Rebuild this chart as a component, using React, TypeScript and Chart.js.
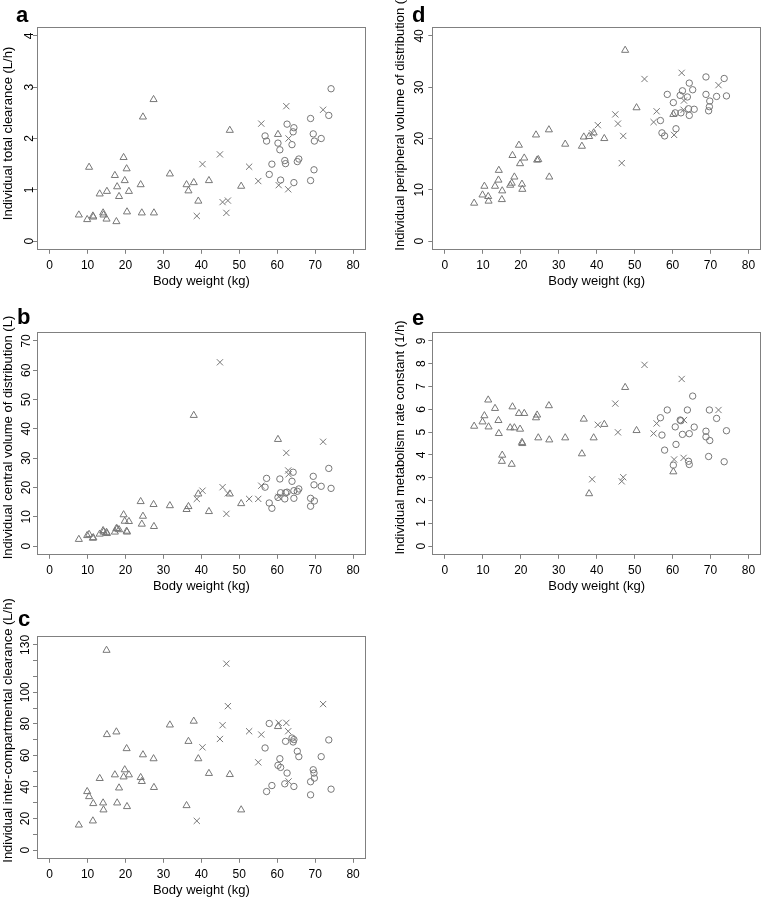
import React, { useEffect, useRef } from 'react';
import { Chart, registerables } from 'chart.js';
Chart.register(...registerables);

// ---------- data (body weight in kg, shared by every panel) ----------
const WEIGHT_TRIANGLE = [7.7, 9.9, 10.4, 11.4, 11.5, 13.2, 14.1, 14.2, 15.0, 15.1, 17.2, 17.6, 17.8, 18.3, 19.5, 19.8, 20.3, 20.4, 20.9, 24.0, 24.3, 24.6, 27.4, 27.5, 31.7, 36.1, 36.6, 38.0, 39.2, 42.0, 47.5, 50.5, 60.2];
const WEIGHT_CROSS = [38.8, 40.3, 44.9, 45.6, 46.6, 47.0, 52.6, 55.0, 55.8, 60.4, 62.4, 62.9, 63.0, 72.1];
const WEIGHT_CIRCLE = [56.8, 57.2, 57.9, 58.6, 60.2, 60.7, 60.9, 62.0, 62.2, 62.6, 63.9, 64.2, 64.4, 64.4, 65.3, 65.7, 68.8, 68.8, 69.5, 69.7, 69.8, 71.6, 73.6, 74.2];

// a: individual total clearance (L/h)
const CL_TRIANGLE = [0.51, 0.42, 1.44, 0.49, 0.47, 0.92, 0.55, 0.51, 0.43, 0.97, 1.28, 0.38, 1.06, 0.87, 1.63, 1.18, 1.41, 0.57, 0.97, 1.10, 0.55, 2.42, 2.76, 0.55, 1.31, 1.10, 0.98, 1.14, 0.78, 1.18, 2.16, 1.07, 2.08];
const CL_CROSS = [0.49, 1.50, 1.69, 0.76, 0.55, 0.79, 1.45, 1.17, 2.29, 1.09, 2.63, 1.01, 2.00, 2.56];
const CL_CIRCLE = [2.05, 1.95, 1.30, 1.50, 1.91, 1.78, 1.19, 1.57, 1.51, 2.28, 1.88, 2.13, 2.21, 1.14, 1.55, 1.60, 1.18, 2.39, 2.09, 1.39, 1.95, 2.00, 2.45, 2.97];

// b: individual central volume of distribution (L)
const VC_TRIANGLE = [2.3, 3.6, 4.0, 2.7, 2.9, 4.1, 5.3, 4.8, 4.7, 4.3, 4.8, 6.0, 5.9, 5.6, 10.7, 8.5, 5.1, 4.8, 8.4, 15.2, 7.5, 10.2, 14.2, 6.7, 13.8, 12.5, 13.5, 44.6, 17.8, 11.8, 17.8, 14.5, 36.4];
const VC_CROSS = [16.1, 18.9, 62.7, 20.1, 11.0, 18.0, 16.1, 16.1, 20.6, 16.8, 31.8, 25.8, 24.5, 35.6];
const VC_CIRCLE = [20.1, 23.1, 14.7, 12.9, 16.6, 22.9, 18.2, 16.1, 18.2, 18.4, 22.1, 25.2, 18.9, 16.3, 18.7, 19.5, 16.3, 13.6, 23.8, 20.9, 15.4, 20.4, 26.5, 19.7];

// c: individual inter-compartmental clearance (L/h)
const Q_TRIANGLE = [15.9, 37.1, 33.9, 18.5, 29.5, 45.4, 29.9, 25.5, 126.6, 73.2, 47.7, 74.9, 29.9, 39.4, 46.4, 50.9, 64.3, 27.6, 47.7, 46.0, 43.5, 60.4, 57.9, 39.7, 79.3, 28.2, 68.9, 81.7, 57.9, 48.6, 47.9, 25.5, 78.3];
const Q_CROSS = [18.5, 65.1, 70.4, 79.1, 118.1, 91.2, 75.3, 55.6, 73.2, 80.6, 80.6, 75.3, 43.5, 92.5];
const Q_CIRCLE = [64.7, 37.1, 80.2, 40.9, 53.7, 57.9, 52.4, 42.0, 68.9, 48.8, 71.0, 68.5, 40.3, 70.0, 62.6, 59.2, 35.0, 43.3, 50.9, 48.8, 45.6, 59.2, 69.8, 38.6];

// d: individual peripheral volume of distribution (L)
const VP_TRIANGLE = [7.4, 9.0, 10.7, 8.7, 7.8, 10.7, 11.9, 13.8, 8.1, 9.8, 10.9, 11.3, 16.7, 12.5, 18.7, 15.1, 11.1, 10.1, 16.2, 20.7, 15.8, 15.9, 21.7, 12.5, 18.9, 18.5, 20.3, 20.4, 21.1, 20.0, 37.2, 26.0, 24.7];
const VP_CROSS = [21.0, 22.6, 24.7, 22.9, 15.2, 20.5, 31.6, 23.2, 25.3, 20.7, 32.8, 25.6, 27.4, 30.4];
const VP_CIRCLE = [23.5, 21.1, 20.5, 28.6, 27.0, 25.0, 21.9, 28.4, 25.0, 29.3, 28.1, 25.8, 24.5, 30.8, 29.5, 25.7, 32.0, 28.6, 25.4, 26.2, 27.3, 28.2, 31.7, 28.3];

// e: individual metabolism rate constant (1/h)
const KM_TRIANGLE = [5.26, 5.45, 5.72, 6.41, 5.23, 6.04, 5.51, 4.94, 3.72, 3.99, 5.19, 3.59, 6.11, 5.19, 5.82, 5.13, 4.55, 4.50, 5.82, 5.63, 5.75, 4.75, 6.16, 4.66, 4.75, 4.05, 5.57, 2.30, 4.75, 5.34, 6.96, 5.07, 3.26];
const KM_CROSS = [2.93, 5.32, 6.25, 4.99, 2.84, 3.02, 7.95, 4.94, 5.38, 3.80, 7.33, 3.87, 5.53, 5.97];
const KM_CIRCLE = [5.63, 4.87, 4.21, 5.97, 3.55, 5.23, 4.46, 5.53, 5.50, 4.90, 5.97, 3.72, 3.58, 4.93, 6.58, 5.22, 5.04, 4.79, 3.93, 5.97, 4.63, 5.60, 3.70, 5.06];

// ---------- ticks ----------
const X_TICKS = [0, 10, 20, 30, 40, 50, 60, 70, 80];
const CL_TICKS = [0, 1, 2, 3, 4];
const VC_TICKS = [0, 10, 20, 30, 40, 50, 60, 70];
const Q_TICKS = [0, 10, 20, 30, 40, 50, 60, 70, 80, 90, 100, 110, 120, 130];
const Q_TICK_LABELS = ['0', '', '20', '', '40', '', '60', '', '80', '', '100', '', '', '130'];
const VP_TICKS = [0, 10, 20, 30, 40];
const KM_TICKS = [0, 1, 2, 3, 4, 5, 6, 7, 8, 9];

const X_TITLE = 'Body weight (kg)';

// ---------- layout / style ----------
const FONT = '"Liberation Sans", Arial, Helvetica, sans-serif';
const GRAY = '#777777';
const BOX_GRAY = '#808080';
const AREA_HEIGHT = 221.6;
const TICK_LEN = 4.5;

type Panel = {
  letter: string;
  left: number; top: number; width: number; height: number;
  areaTop: number; areaLeft: number; areaRight: number;
  yTitle: string; yTitleShift: number; yMin: number; yMax: number;
  ticks: number[]; labels: string[] | null;
  series: number[][];
  letterX: number; letterY: number;
  yLabelDist: number;
};

const PANELS: Panel[] = [
  { letter: 'a', left: 0, top: 0, width: 380, height: 305, areaTop: 27.7, areaLeft: 37.5, areaRight: 365.2,
    yTitle: 'Individual total clearance (L/h)', yTitleShift: -5, yMin: -0.16, yMax: 4.16, ticks: CL_TICKS, labels: null,
    series: [CL_TRIANGLE, CL_CROSS, CL_CIRCLE], letterX: 16, letterY: 22, yLabelDist: 8 },
  { letter: 'b', left: 0, top: 305, width: 380, height: 304, areaTop: 27.7, areaLeft: 37.5, areaRight: 365.2,
    yTitle: 'Individual central volume of distribution (L)', yTitleShift: -6, yMin: -2.8, yMax: 72.8, ticks: VC_TICKS, labels: null,
    series: [VC_TRIANGLE, VC_CROSS, VC_CIRCLE], letterX: 17, letterY: 18.5, yLabelDist: 10.5 },
  { letter: 'c', left: 0, top: 590, width: 380, height: 309, areaTop: 46.7, areaLeft: 37.5, areaRight: 365.2,
    yTitle: 'Individual inter-compartmental clearance (L/h)', yTitleShift: -17, yMin: -5.2, yMax: 135.2, ticks: Q_TICKS, labels: Q_TICK_LABELS,
    series: [Q_TRIANGLE, Q_CROSS, Q_CIRCLE], letterX: 18, letterY: 35.5, yLabelDist: 12 },
  { letter: 'd', left: 392, top: 0, width: 369, height: 305, areaTop: 27.7, areaLeft: 40.8, areaRight: 368.6,
    yTitle: 'Individual peripheral volume of distribution (L)', yTitleShift: -19, yMin: -1.6, yMax: 41.6, ticks: VP_TICKS, labels: null,
    series: [VP_TRIANGLE, VP_CROSS, VP_CIRCLE], letterX: 20, letterY: 22, yLabelDist: 13.5 },
  { letter: 'e', left: 392, top: 305, width: 369, height: 304, areaTop: 27.7, areaLeft: 40.8, areaRight: 368.6,
    yTitle: 'Individual metabolism rate constant (1/h)', yTitleShift: -6, yMin: -0.36, yMax: 9.36, ticks: KM_TICKS, labels: null,
    series: [KM_TRIANGLE, KM_CROSS, KM_CIRCLE], letterX: 20, letterY: 20, yLabelDist: 11 },
];

const boxPlugin = {
  id: 'rBox',
  afterDraw(chart: any) {
    const { ctx, chartArea } = chart;
    const l = Math.floor(chartArea.left) + 0.5;
    const t = Math.floor(chartArea.top) + 0.5;
    const r = Math.floor(chartArea.right) + 0.5;
    const b = Math.floor(chartArea.bottom) + 0.5;
    ctx.save();
    ctx.strokeStyle = BOX_GRAY;
    ctx.lineWidth = 1;
    ctx.strokeRect(l, t, r - l, b - t);
    ctx.restore();
  },
};

const textPlugin = {
  id: 'panelText',
  afterDraw(chart: any, _args: any, opts: any) {
    const { ctx, chartArea } = chart;
    ctx.save();
    ctx.font = `bold 22px ${FONT}`;
    ctx.fillStyle = '#000';
    ctx.textBaseline = 'alphabetic';
    ctx.textAlign = 'left';
    ctx.fillText(opts.letter, opts.letterX, opts.letterY);
    // y-axis title, rotated, placed as in the R figure
    const cy = (chartArea.top + chartArea.bottom) / 2 + opts.yShift;
    ctx.translate(8, cy);
    ctx.rotate(-Math.PI / 2);
    ctx.font = `13px ${FONT}`;
    ctx.textAlign = 'center';
    ctx.textBaseline = 'middle';
    ctx.fillText(opts.yTitle, 0, 0);
    ctx.restore();
  },
};

function labelWidth(text: string) {
  const c = document.createElement('canvas').getContext('2d')!;
  c.font = `12px ${FONT}`;
  return c.measureText(text).width;
}

function PanelChart({ p }: { p: Panel }) {
  const ref = useRef<HTMLCanvasElement>(null);
  useEffect(() => {
    const canvas = ref.current!;
    const labels = p.labels ?? p.ticks.map(String);
    const widest = Math.max(...labels.map(labelWidth));
    const yPad = p.yLabelDist - TICK_LEN - widest / 2;
    const areaBottom = p.areaTop + AREA_HEIGHT;
    const xScaleHeight = p.height - areaBottom;
    const xTitlePadBottom = p.height - (areaBottom + 32) - 7.8;
    const styles = [
      { pointStyle: 'triangle', pointRadius: 4.1 },
      { pointStyle: 'crossRot', pointRadius: 4.4 },
      { pointStyle: 'circle', pointRadius: 3.2 },
    ];
    const weights = [WEIGHT_TRIANGLE, WEIGHT_CROSS, WEIGHT_CIRCLE];
    const chart = new Chart(canvas, {
      type: 'scatter',
      data: {
        datasets: p.series.map((ys, k) => ({
          data: weights[k].map((x, i) => ({ x, y: ys[i] })),
          pointStyle: styles[k].pointStyle as any,
          pointRadius: styles[k].pointRadius,
          pointBorderWidth: 1,
          borderColor: GRAY,
          pointBorderColor: GRAY,
          backgroundColor: 'rgba(0,0,0,0)',
          pointBackgroundColor: 'rgba(0,0,0,0)',
          showLine: false,
          clip: false as any,
        })),
      },
      options: {
        animation: false,
        responsive: false,
        maintainAspectRatio: false,
        events: [],
        layout: {
          autoPadding: false,
          padding: { top: p.areaTop, left: 0, bottom: 0, right: p.width - p.areaRight },
        },
        plugins: {
          legend: { display: false },
          tooltip: { enabled: false },
          title: { display: false },
          panelText: { letter: p.letter, letterX: p.letterX, letterY: p.letterY, yTitle: p.yTitle, yShift: p.yTitleShift },
        } as any,
        scales: {
          x: {
            type: 'linear',
            position: 'bottom',
            min: -3.2,
            max: 83.2,
            afterBuildTicks: (s: any) => { s.ticks = X_TICKS.map((v) => ({ value: v })); },
            afterFit: (s: any) => { s.height = xScaleHeight; },
            grid: { display: true, drawOnChartArea: false, drawTicks: true, tickLength: TICK_LEN, color: BOX_GRAY, lineWidth: 1 },
            border: { display: false },
            ticks: {
              autoSkip: false, maxRotation: 0, minRotation: 0, padding: 4.3,
              color: '#000', font: { family: FONT, size: 12 },
              callback: (v: any) => String(v),
            },
            title: {
              display: true, text: X_TITLE, color: '#000',
              font: { family: FONT, size: 13 },
              padding: { top: 0, bottom: xTitlePadBottom },
            },
          },
          y: {
            type: 'linear',
            position: 'left',
            min: p.yMin,
            max: p.yMax,
            afterBuildTicks: (s: any) => { s.ticks = p.ticks.map((v) => ({ value: v })); },
            afterFit: (s: any) => { s.width = p.areaLeft; },
            grid: { display: true, drawOnChartArea: false, drawTicks: true, tickLength: TICK_LEN, color: BOX_GRAY, lineWidth: 1 },
            border: { display: false },
            ticks: {
              autoSkip: false, minRotation: 90, maxRotation: 90, crossAlign: 'center', padding: yPad,
              color: '#000', font: { family: FONT, size: 12 },
              callback: (v: any) => {
                const idx = p.ticks.indexOf(Number(v));
                return idx >= 0 ? labels[idx] : '';
              },
            },
            title: { display: false },
          },
        },
      },
      plugins: [boxPlugin, textPlugin],
    } as any);
    return () => chart.destroy();
  }, [p]);
  return (
    <canvas
      ref={ref}
      width={p.width}
      height={p.height}
      style={{ position: 'absolute', left: p.left, top: p.top, width: p.width, height: p.height }}
    />
  );
}

export default function App() {
  return (
    <div style={{ position: 'absolute', left: 0, top: 0, width: 761, height: 899, background: '#fff', overflow: 'hidden' }}>
      {PANELS.map((p) => <PanelChart key={p.letter} p={p} />)}
    </div>
  );
}
